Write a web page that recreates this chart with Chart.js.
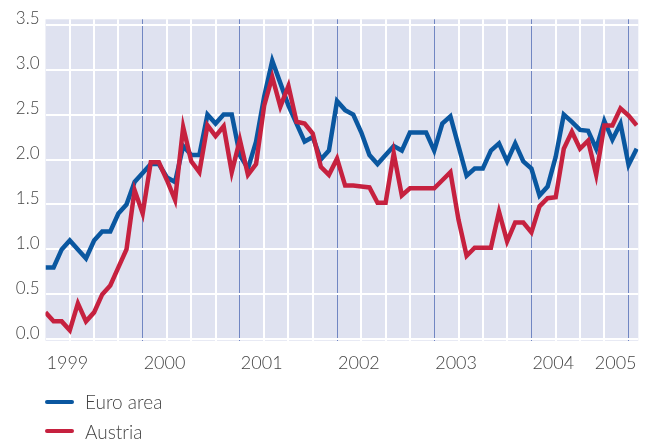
<!DOCTYPE html>
<html>
<head>
<meta charset="utf-8">
<script src="https://cdn.jsdelivr.net/npm/chart.js@4.4.1/dist/chart.umd.min.js"></script>
<style>
  html, body { margin: 0; padding: 0; background: #fff; }
  #wrap { position: relative; width: 651px; height: 441px; }
  #legend { position: absolute; left: 45px; top: 387px; font-family: Lato, 'Open Sans', sans-serif; font-weight: 300; font-size: 19px; color: #444; }
  .item { height: 29.5px; display: flex; align-items: center; }
  .swatch { width: 29px; height: 4px; border-radius: 2px; margin-right: 11px; }
</style>
</head>
<body>
<div id="wrap">
  <canvas id="chart" width="651" height="441"></canvas>
  <div id="legend"></div>
</div>
<script>
// monthly, Jan 1999 .. Feb 2005
const years = ['1999', '2000', '2001', '2002', '2003', '2004', '2005'];

const euroArea = [
  0.8, 0.8, 1.0, 1.1, 1.0, 0.9, 1.1, 1.2, 1.2, 1.4, 1.5, 1.75,
  1.85, 1.95, 1.95, 1.8, 1.75, 2.15, 2.05, 2.05, 2.5, 2.4, 2.5, 2.5,
  2.05, 1.9, 2.2, 2.7, 3.1, 2.85, 2.6, 2.4, 2.2, 2.25, 2.0, 2.1,
  2.65, 2.55, 2.5, 2.3, 2.05, 1.95, 2.05, 2.15, 2.1, 2.3, 2.3, 2.3,
  2.1, 2.4, 2.48, 2.15, 1.82, 1.9, 1.9, 2.1, 2.18, 1.98, 2.18, 1.98,
  1.9, 1.6, 1.7, 2.03, 2.5, 2.42, 2.33, 2.32, 2.12, 2.43, 2.22, 2.4,
  1.94, 2.12
];

const austria = [
  0.3, 0.2, 0.2, 0.1, 0.4, 0.2, 0.3, 0.5, 0.6, 0.8, 1.0, 1.66,
  1.4, 1.97, 1.97, 1.77, 1.55, 2.36, 1.98, 1.86, 2.38, 2.26, 2.37, 1.86,
  2.22, 1.83, 1.95, 2.6, 2.92, 2.59, 2.82, 2.42, 2.4, 2.29, 1.92, 1.83,
  2.01, 1.71, 1.71, 1.7, 1.69, 1.52, 1.52, 2.07, 1.6, 1.68, 1.68, 1.68,
  1.68, 1.77, 1.86, 1.33, 0.93, 1.02, 1.02, 1.02, 1.42, 1.09, 1.3, 1.3,
  1.19, 1.48, 1.57, 1.58, 2.12, 2.31, 2.12, 2.21, 1.83, 2.38, 2.38, 2.57,
  2.49, 2.38
];

const yTicks = [0, 0.5, 1.0, 1.5, 2.0, 2.5, 3.0, 3.5];
const seriesNames = ['Euro area', 'Austria'];

const colors = ['#0a57a0', '#c6213f'];
const textColor = '#444';
const fontFamily = "Lato, 'Open Sans', sans-serif";
const lastLabelAt = 67.7; // 2005 label squeezed in before the right edge

const plotBg = {
  id: 'plotBg',
  beforeDraw(chart) {
    const { ctx, chartArea: a } = chart;
    ctx.save();
    ctx.fillStyle = '#dfe2f0';
    ctx.fillRect(a.left, a.top, a.right - a.left, a.bottom - a.top);
    ctx.restore();
  }
};

const toPoints = arr => arr.map((v, i) => ({ x: i, y: v }));

new Chart(document.getElementById('chart'), {
  type: 'line',
  data: {
    datasets: [
      { label: seriesNames[0], data: toPoints(euroArea), borderColor: colors[0], order: 2 },
      { label: seriesNames[1], data: toPoints(austria), borderColor: colors[1], order: 1 }
    ]
  },
  options: {
    responsive: false,
    animation: false,
    devicePixelRatio: 1,
    layout: { padding: { left: 0, right: 12.7, top: 19.3, bottom: 0 } },
    elements: {
      line: { borderWidth: 4.5, tension: 0, borderJoinStyle: 'miter', fill: false },
      point: { radius: 0 }
    },
    plugins: { legend: { display: false }, tooltip: { enabled: false } },
    scales: {
      x: {
        type: 'linear',
        min: 0,
        max: 73.2,
        afterBuildTicks(scale) {
          const t = [];
          for (let m = 0; m <= 72; m += 3) t.push({ value: m });
          t.push({ value: lastLabelAt });
          t.sort((a, b) => a.value - b.value);
          scale.ticks = t;
        },
        afterFit(scale) {
          scale.height = 100.3;
          scale.paddingLeft = 0;
          scale.paddingRight = 0;
        },
        border: { display: false },
        grid: {
          drawTicks: false,
          color: c => {
            const v = c.tick.value;
            if (v === 0 || v === lastLabelAt) return 'rgba(0,0,0,0)';
            return v % 12 === 0 ? '#7186c2' : '#ffffff';
          },
          lineWidth: c => (c.tick.value % 12 === 0 ? 1 : 2)
        },
        ticks: {
          autoSkip: false,
          maxRotation: 0,
          align: 'start',
          padding: 12,
          labelOffset: 1,
          color: textColor,
          font: { family: fontFamily, size: 18, weight: 300 },
          callback: v => {
            if (v === lastLabelAt) return years[years.length - 1];
            if (v % 12 === 0 && v < 72) return years[v / 12];
            return '';
          }
        }
      },
      y: {
        min: -0.015,
        max: 3.56,
        afterBuildTicks(scale) {
          scale.ticks = yTicks.map(v => ({ value: v }));
        },
        afterFit(scale) {
          scale.width = 45.5;
          scale.paddingTop = 0;
          scale.paddingBottom = 0;
        },
        border: { display: false },
        grid: { drawTicks: false, color: '#ffffff', lineWidth: 2 },
        ticks: {
          padding: 6,
          labelOffset: -6,
          color: textColor,
          font: { family: fontFamily, size: 17, weight: 300 },
          callback: v => v.toFixed(1)
        }
      }
    }
  },
  plugins: [plotBg]
});

// legend below the plot, stacked
const legend = document.getElementById('legend');
seriesNames.forEach((name, i) => {
  const item = document.createElement('div');
  item.className = 'item';
  const sw = document.createElement('span');
  sw.className = 'swatch';
  sw.style.background = colors[i];
  const txt = document.createElement('span');
  txt.textContent = name;
  item.appendChild(sw);
  item.appendChild(txt);
  legend.appendChild(item);
});
</script>
</body>
</html>
